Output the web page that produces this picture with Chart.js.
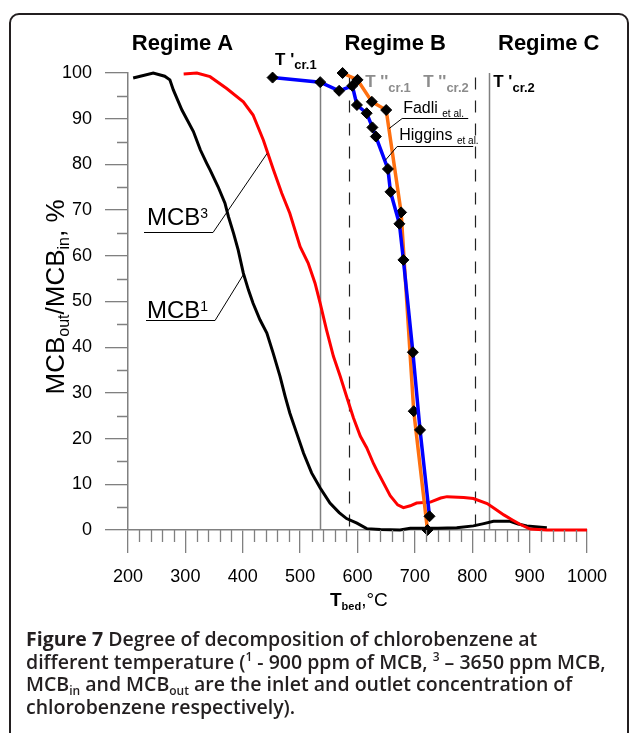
<!DOCTYPE html>
<html>
<head>
<meta charset="utf-8">
<script src="https://cdn.jsdelivr.net/npm/chart.js@4.4.1/dist/chart.umd.min.js"></script>
<style>
html, body { margin: 0; padding: 0; background: #fff; }
canvas { display: block; }
</style>
</head>
<body>
<canvas id="degChart" width="629" height="733"></canvas>
<script>
// MCB1 (900 ppm) - black curve
var tempMCB1 = [209, 244, 264, 273, 279, 294, 314, 326, 337, 343, 357, 369, 375, 384, 392, 401, 410, 418, 430, 442, 453, 465, 474, 482, 494, 506, 520, 535, 552, 568, 581, 599, 616, 640, 674, 692, 709, 740, 773, 802, 820, 837, 866, 880, 895, 930];
var valMCB1 = [98.9, 100, 99.3, 98.5, 96.3, 91.9, 87.2, 83.2, 80.3, 78.8, 75.1, 71.5, 68.6, 64.9, 61.3, 56.2, 52.5, 49.6, 46, 43.1, 38.7, 33.6, 29.2, 25.6, 21.2, 16.8, 12.5, 9.2, 5.9, 3.8, 2.5, 1.5, 0.3, 0.1, 0, 0.4, 0.4, 0.4, 0.5, 0.9, 1.4, 1.9, 1.9, 1.3, 0.9, 0.5];

// MCB3 (3650 ppm) - red curve
var tempMCB3 = [297, 320, 343, 372, 401, 418, 436, 453, 468, 482, 500, 514, 526, 535, 546, 558, 570, 581, 593, 605, 616, 628, 634, 657, 670, 680, 692, 703, 727, 745, 756, 785, 802, 826, 840, 855, 870, 884, 901, 930, 960, 1000];
var valMCB3 = [99.8, 100, 99.2, 96.6, 93.7, 90.8, 85.3, 79, 73.7, 69.3, 62, 58.4, 54, 49.6, 43.8, 38, 33.6, 29.2, 24.5, 20.5, 18, 14.5, 13, 7.5, 5.5, 4.9, 5.3, 5.9, 6.1, 7, 7.3, 7.1, 6.9, 5.8, 4.6, 3.3, 2.2, 1.2, 0.2, 0, 0, 0];

// Higgins et al. - blue
var tempHiggins = [452, 535, 568, 591, 599, 616, 626, 632, 653, 657.5, 673, 680, 696.5, 709, 725.5];
var valHiggins = [99, 98, 96.1, 97.2, 93, 91.2, 88.1, 86.1, 79, 74, 67, 59.1, 38.9, 21.9, 3];

// Fadli et al. - orange
var tempFadli = [574, 600, 625, 650, 676, 698, 722];
var valFadli = [100, 98.5, 93.7, 91.9, 69.5, 26, 0];

// critical temperatures
var critSolid = [535, 830];
var critDashed = [585, 805];

var xTicks = [200, 300, 400, 500, 600, 700, 800, 900, 1000];

function pts(xs, ys) {
  return xs.map(function (x, i) { return { x: x, y: ys[i] }; });
}

Chart.defaults.font.family = '"Liberation Sans", Arial, sans-serif';
Chart.defaults.color = '#000';

var FONT = '"Liberation Sans", Arial, sans-serif';
var CAPFONT = '"Open Sans", sans-serif';

// draw a run of text pieces one after another
function runs(ctx, x, y, parts) {
  parts.forEach(function (p) {
    ctx.font = p.f;
    ctx.fillStyle = p.c || ctx.fillStyle;
    ctx.fillText(p.t, x, y + (p.dy || 0));
    x += ctx.measureText(p.t).width;
  });
  return x;
}

var decor = {
  id: 'decor',
  beforeDatasetsDraw: function (chart) {
    var ctx = chart.ctx, xs = chart.scales.x, ys = chart.scales.y;
    ctx.save();
    ctx.lineWidth = 1.5;
    ctx.strokeStyle = '#808080';
    critSolid.forEach(function (t) {
      var px = Math.round(xs.getPixelForValue(t)) + 0.5;
      ctx.beginPath();
      ctx.moveTo(px, ys.getPixelForValue(t < 600 ? 98 : 100));
      ctx.lineTo(px, ys.getPixelForValue(0));
      ctx.stroke();
    });
    ctx.lineWidth = 1.2;
    ctx.strokeStyle = '#222';
    ctx.setLineDash([12, 11]);
    critDashed.forEach(function (t) {
      var px = Math.round(xs.getPixelForValue(t)) + 0.5;
      ctx.beginPath();
      ctx.moveTo(px, ys.getPixelForValue(99));
      ctx.lineTo(px, ys.getPixelForValue(0));
      ctx.stroke();
    });
    ctx.restore();
  },
  afterDraw: function (chart) {
    var ctx = chart.ctx, xs = chart.scales.x, ys = chart.scales.y;
    var X = function (v) { return xs.getPixelForValue(v); };
    var Y = function (v) { return ys.getPixelForValue(v); };
    var a = chart.chartArea;
    ctx.save();

    // minor ticks
    ctx.strokeStyle = '#808080';
    ctx.lineWidth = 1.3;
    ctx.beginPath();
    for (var t = 200; t <= 1000; t += 20) {
      if (t % 100 === 0) continue;
      var px = Math.round(X(t)) + 0.5;
      ctx.moveTo(px, a.bottom);
      ctx.lineTo(px, a.bottom + 12);
    }
    for (var v = 0; v <= 100; v += 5) {
      if (v % 10 === 0) continue;
      var py = Math.round(Y(v)) + 0.5;
      ctx.moveTo(a.left - 11, py);
      ctx.lineTo(a.left, py);
    }
    ctx.stroke();

    ctx.fillStyle = '#000';
    ctx.textBaseline = 'alphabetic';

    // regime titles
    ctx.textAlign = 'center';
    ctx.font = 'bold 22px ' + FONT;
    ctx.fillText('Regime A', X(295), Y(105.1));
    ctx.fillText('Regime B', X(665.6), Y(105.1));
    ctx.fillText('Regime C', X(933.3), Y(105.1));

    ctx.textAlign = 'left';
    // critical temperature labels
    runs(ctx, X(456.4), Y(101.8), [
      { t: "T '", f: 'bold 17px ' + FONT, c: '#000' },
      { t: 'cr.1', f: 'bold 13px ' + FONT, dy: 4 }
    ]);
    runs(ctx, X(613.3), Y(97), [
      { t: "T ''", f: 'bold 17px ' + FONT, c: '#8c8c8c' },
      { t: 'cr.1', f: 'bold 13px ' + FONT, dy: 5 }
    ]);
    runs(ctx, X(714.5), Y(97), [
      { t: "T ''", f: 'bold 17px ' + FONT, c: '#8c8c8c' },
      { t: 'cr.2', f: 'bold 13px ' + FONT, dy: 5 }
    ]);
    runs(ctx, X(836.6), Y(97), [
      { t: "T '", f: 'bold 17px ' + FONT, c: '#000' },
      { t: 'cr.2', f: 'bold 13px ' + FONT, dy: 5 }
    ]);

    // series labels with leaders
    ctx.fillStyle = '#000';
    runs(ctx, X(679.6), Y(91.3), [
      { t: 'Fadli ', f: '16px ' + FONT },
      { t: 'et al.', f: '10px ' + FONT, dy: 4 }
    ]);
    runs(ctx, X(672.6), Y(85.3), [
      { t: 'Higgins ', f: '16px ' + FONT },
      { t: 'et al.', f: '10px ' + FONT, dy: 4 }
    ]);
    runs(ctx, X(233.1), Y(66.8), [
      { t: 'MCB', f: '24px ' + FONT },
      { t: '3', f: '14px ' + FONT, dy: -7 }
    ]);
    runs(ctx, X(233.1), Y(46.4), [
      { t: 'MCB', f: '24px ' + FONT },
      { t: '1', f: '14px ' + FONT, dy: -7 }
    ]);

    ctx.strokeStyle = '#000';
    ctx.lineWidth = 1;
    var leaders = [
      [[793, 90.1], [677.8, 90.1], [655.2, 88]],
      [[801.7, 84], [669.1, 84], [648.2, 81]],
      [[227.9, 65.2], [348.2, 65.2], [442.4, 82.5]],
      [[231.4, 46], [351.7, 46], [402.3, 56.3]]
    ];
    leaders.forEach(function (l) {
      ctx.beginPath();
      l.forEach(function (p, i) {
        var lx = X(p[0]), ly = Math.round(Y(p[1])) + 0.5;
        if (i === 0) ctx.moveTo(lx, ly); else ctx.lineTo(lx, ly);
      });
      ctx.stroke();
    });

    // x axis title
    runs(ctx, 330, 606, [
      { t: 'T', f: 'bold 19px ' + FONT },
      { t: 'bed', f: 'bold 11px ' + FONT, dy: 4 },
      { t: ',', f: '19px ' + FONT },
      { t: '\u00B0C', f: '19px ' + FONT }
    ]);

    // y axis title
    ctx.save();
    ctx.translate(55, 297);
    ctx.rotate(-Math.PI / 2);
    var yParts = [
      { t: 'MCB', f: '26px ' + FONT },
      { t: 'out', f: '16px ' + FONT, dy: 5 },
      { t: '/MCB', f: '26px ' + FONT },
      { t: 'in', f: '16px ' + FONT, dy: 5 },
      { t: ', %', f: '26px ' + FONT }
    ];
    var w = 0;
    yParts.forEach(function (p) { ctx.font = p.f; w += ctx.measureText(p.t).width; });
    runs(ctx, -w / 2, 9, yParts);
    ctx.restore();

    // caption
    ctx.fillStyle = '#231f20';
    var cf = '600 19.5px ' + CAPFONT, cb = 'bold 19.5px ' + CAPFONT, cs = '600 12px ' + CAPFONT;
    runs(ctx, 26, 646, [
      { t: 'Figure 7', f: cb },
      { t: ' Degree of decomposition of chlorobenzene at', f: cf }
    ]);
    runs(ctx, 26, 668.5, [
      { t: 'different temperature (', f: cf },
      { t: '1', f: cs, dy: -8 },
      { t: ' - 900 ppm of MCB, ', f: cf },
      { t: '3', f: cs, dy: -8 },
      { t: ' \u2013 3650 ppm MCB,', f: cf }
    ]);
    runs(ctx, 26, 691, [
      { t: 'MCB', f: cf },
      { t: 'in', f: cs, dy: 4 },
      { t: ' and MCB', f: cf },
      { t: 'out', f: cs, dy: 4 },
      { t: ' are the inlet and outlet concentration of', f: cf }
    ]);
    runs(ctx, 26, 713.5, [
      { t: 'chlorobenzene respectively).', f: cf }
    ]);

    // figure frame
    ctx.strokeStyle = '#231f20';
    ctx.lineWidth = 2;
    var r = 9, L = 10, T = 14, R = 628;
    ctx.beginPath();
    ctx.moveTo(L, 745);
    ctx.lineTo(L, T + r);
    ctx.arcTo(L, T, L + r, T, r);
    ctx.lineTo(R - r, T);
    ctx.arcTo(R, T, R, T + r, r);
    ctx.lineTo(R, 745);
    ctx.stroke();

    ctx.restore();
  }
};

var ctx = document.getElementById('degChart').getContext('2d');
var degChart = new Chart(ctx, {
  type: 'line',
  data: {
    datasets: [
      {
        label: 'Higgins et al.',
        data: pts(tempHiggins, valHiggins),
        borderColor: '#0000ff',
        borderWidth: 3.5,
        pointStyle: 'rectRot',
        pointRadius: 5.5,
        pointBackgroundColor: '#000',
        pointBorderColor: '#000',
        pointBorderWidth: 1,
        clip: 8
      },
      {
        label: 'Fadli et al.',
        data: pts(tempFadli, valFadli),
        borderColor: '#ff7010',
        borderWidth: 3.5,
        pointStyle: 'rectRot',
        pointRadius: 5.5,
        pointBackgroundColor: '#000',
        pointBorderColor: '#000',
        pointBorderWidth: 1,
        clip: 8
      },
      {
        label: 'MCB3',
        data: pts(tempMCB3, valMCB3),
        borderColor: '#ff0000',
        borderWidth: 3,
        pointRadius: 0,
        clip: 8
      },
      {
        label: 'MCB1',
        data: pts(tempMCB1, valMCB1),
        borderColor: '#000000',
        borderWidth: 3,
        pointRadius: 0,
        clip: 8
      }
    ]
  },
  options: {
    responsive: false,
    animation: false,
    devicePixelRatio: 1,
    layout: { padding: { top: 73, right: 42, left: 0, bottom: 0 } },
    plugins: { legend: { display: false }, tooltip: { enabled: false } },
    elements: { line: { tension: 0 } },
    scales: {
      x: {
        type: 'linear',
        min: 200,
        max: 1000,
        afterBuildTicks: function (s) { s.ticks = xTicks.map(function (v) { return { value: v }; }); },
        afterFit: function (s) { s.height = 203; },
        ticks: {
          font: { size: 18 }, color: '#000', padding: 13, maxRotation: 0,
          callback: function (v) { return String(v); }
        },
        grid: { drawOnChartArea: false, tickLength: 23, color: '#808080', lineWidth: 1.3 },
        border: { color: '#808080', width: 1.5 }
      },
      y: {
        min: 0,
        max: 100,
        afterFit: function (s) { s.width = 128; },
        ticks: { stepSize: 10, font: { size: 18 }, color: '#000', padding: 13 },
        grid: { drawOnChartArea: false, tickLength: 23, color: '#808080', lineWidth: 1.3 },
        border: { color: '#808080', width: 1.5 }
      }
    }
  },
  plugins: [decor]
});
</script>
</body>
</html>
